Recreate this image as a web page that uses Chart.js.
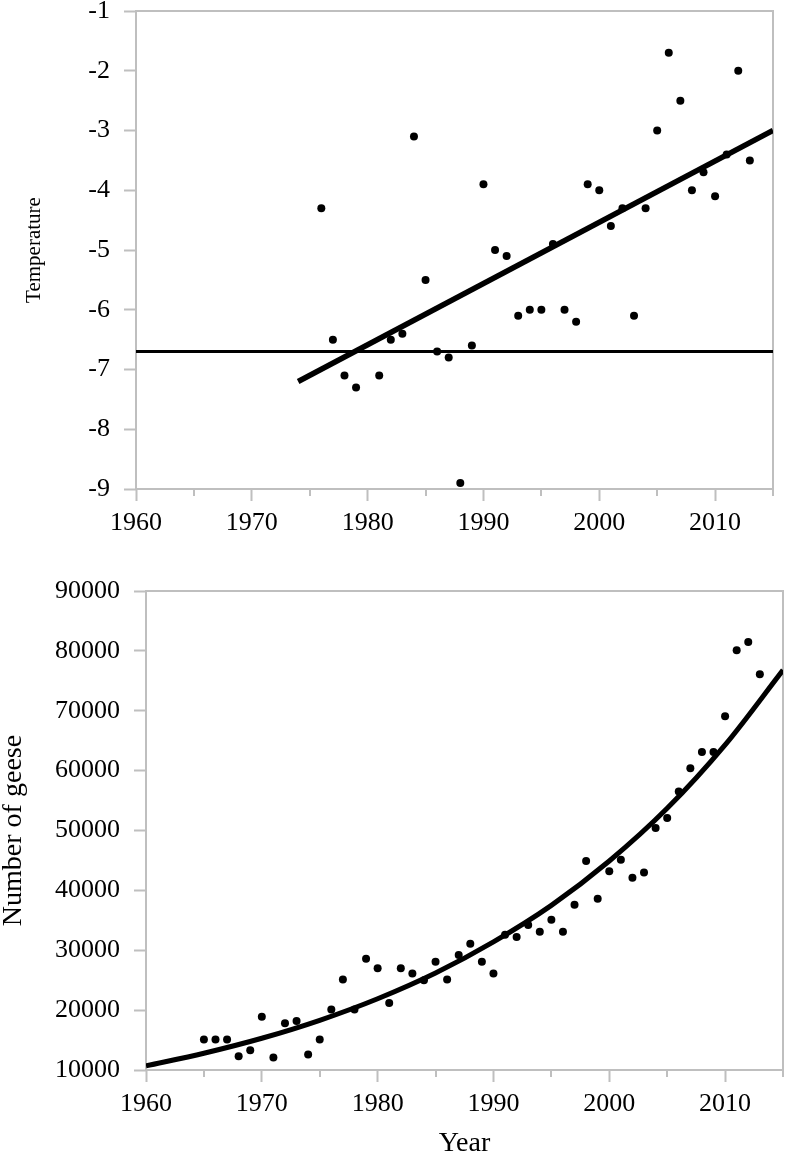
<!DOCTYPE html>
<html>
<head>
<meta charset="utf-8">
<script src="https://cdn.jsdelivr.net/npm/chart.js@4.4.0/dist/chart.umd.min.js"></script>
<style>
html, body { margin: 0; padding: 0; background: #fff; width: 789px; height: 1153px; overflow: hidden; }
.box { position: absolute; left: 0; width: 789px; }
#topBox { top: 0; height: 550px; }
#bottomBox { top: 550px; height: 610px; }
</style>
</head>
<body>
<div class="box" id="topBox"><canvas id="tempChart" width="789" height="550"></canvas></div>
<div class="box" id="bottomBox"><canvas id="geeseChart" width="789" height="610"></canvas></div>
<script>
// temperature panel
const tempYears = [1976, 1977, 1978, 1979, 1981, 1982, 1983, 1984, 1985, 1986, 1987, 1988, 1989,
    1990, 1991, 1992, 1993, 1994, 1995, 1996, 1997, 1998, 1999, 2000, 2001, 2002, 2003, 2004,
    2005, 2006, 2007, 2008, 2009, 2010, 2011, 2012, 2013];
const tempValues = [-4.3, -6.5, -7.1, -7.3, -7.1, -6.5, -6.4, -3.1, -5.5, -6.7, -6.8, -8.9, -6.6,
    -3.9, -5.0, -5.1, -6.1, -6.0, -6.0, -4.9, -6.0, -6.2, -3.9, -4.0, -4.6, -4.3, -6.1, -4.3,
    -3.0, -1.7, -2.5, -4.0, -3.7, -4.1, -3.4, -2.0, -3.5];
const tempTrendYears = [1974, 2015];
const tempTrendValues = [-7.2, -3.0];
const tempMeanYears = [1960, 2015];
const tempMeanValues = [-6.7, -6.7];
const tempTicks = [-9, -8, -7, -6, -5, -4, -3, -2, -1];

// geese panel
const geeseYears = [1965, 1966, 1967, 1968, 1969, 1970, 1971, 1972, 1973, 1974, 1975, 1976, 1977,
    1978, 1979, 1980, 1981, 1982, 1983, 1984, 1985, 1986, 1987, 1988, 1989, 1990, 1991, 1992,
    1993, 1994, 1995, 1996, 1997, 1998, 1999, 2000, 2001, 2002, 2003, 2004, 2005, 2006, 2007,
    2008, 2009, 2010, 2011, 2012, 2013];
const geeseCounts = [15100, 15100, 15100, 12300, 13300, 18900, 12100, 17800, 18200, 12600, 15100,
    20100, 25100, 20100, 28600, 27000, 21200, 27000, 26100, 25000, 28100, 25100, 29200, 31100,
    28100, 26100, 32600, 32200, 34200, 33100, 35100, 33100, 37600, 44900, 38600, 43200, 45100,
    42100, 43000, 50400, 52100, 56500, 60400, 63100, 63100, 69100, 80100, 81500, 76100];
// fitted curve
const geeseCurveYears = [1960, 1965, 1970, 1975, 1980, 1985, 1990, 1995, 2000, 2005, 2010, 2015];
const geeseCurveValues = [10700, 12800, 15300, 18300, 21900, 26200, 31400, 37500, 44900, 53700, 64300, 76800];
const geeseTicks = [10000, 20000, 30000, 40000, 50000, 60000, 70000, 80000, 90000];

const yearLabels = [1960, 1970, 1980, 1990, 2000, 2010];

const axisGray = '#bfbfbf';
const serif = 'Liberation Serif, Times New Roman, serif';

function toPoints(xs, ys) {
    return xs.map((x, i) => ({ x: x, y: ys[i] }));
}

// grey frame round the plot and the short ticks at the half decades
const frameAndMinorTicks = {
    id: 'frameAndMinorTicks',
    beforeDatasetsDraw(chart) {
        const ctx = chart.ctx;
        const a = chart.chartArea;
        const x = chart.scales.x;
        ctx.save();
        ctx.strokeStyle = axisGray;
        ctx.lineWidth = 2;
        ctx.strokeRect(a.left, a.top, a.right - a.left, a.bottom - a.top);
        ctx.beginPath();
        x.ticks.forEach(t => {
            if (!yearLabels.includes(t.value)) {
                const px = Math.round(x.getPixelForValue(t.value));
                ctx.moveTo(px, a.bottom);
                ctx.lineTo(px, a.bottom + 7);
            }
        });
        ctx.stroke();
        ctx.restore();
    }
};

function yearAxis(height, title) {
    return {
        type: 'linear',
        min: 1960,
        max: 2015,
        afterFit: s => { s.height = height; s.paddingLeft = 0; s.paddingRight = 0; },
        border: { display: false },
        grid: {
            drawOnChartArea: false,
            tickLength: 12,
            tickWidth: 2,
            tickColor: c => (c.tick && yearLabels.includes(c.tick.value)) ? axisGray : 'rgba(0,0,0,0)'
        },
        ticks: {
            stepSize: 5,
            autoSkip: false,
            maxRotation: 0,
            padding: 7,
            color: '#000',
            font: { family: serif, size: 26 },
            callback: v => yearLabels.includes(v) ? String(v) : ''
        },
        title: title
    };
}

function valueAxis(min, max, step, width, labels, title) {
    return {
        type: 'linear',
        min: min,
        max: max,
        afterFit: s => { s.width = width; s.paddingTop = 0; s.paddingBottom = 0; },
        afterBuildTicks: s => { s.ticks = labels.map(v => ({ value: v })); },
        border: { display: false },
        grid: { drawOnChartArea: false, tickLength: 12, tickWidth: 2, tickColor: axisGray },
        ticks: {
            stepSize: step,
            padding: 14,
            color: '#000',
            font: { family: serif, size: 26 },
            callback: v => String(v)
        },
        title: title
    };
}

const baseOptions = {
    responsive: false,
    animation: false,
    plugins: { legend: { display: false }, tooltip: { enabled: false } }
};

new Chart(document.getElementById('tempChart'), {
    type: 'scatter',
    data: {
        datasets: [
            {
                type: 'line',
                data: toPoints(tempMeanYears, tempMeanValues),
                borderColor: '#000',
                borderWidth: 3,
                pointRadius: 0
            },
            {
                type: 'line',
                data: toPoints(tempTrendYears, tempTrendValues),
                borderColor: '#000',
                borderWidth: 5.5,
                pointRadius: 0
            },
            {
                data: toPoints(tempYears, tempValues),
                backgroundColor: '#000',
                borderWidth: 0,
                pointRadius: 4
            }
        ]
    },
    options: Object.assign({}, baseOptions, {
        layout: { padding: { top: 11, right: 16, left: 0, bottom: 0 } },
        scales: {
            x: yearAxis(61, { display: false }),
            y: valueAxis(-9, -1, 1, 136, tempTicks, {
                display: true,
                text: 'Temperature',
                color: '#000',
                font: { family: serif, size: 21, lineHeight: 1.2 },
                padding: { top: 22, bottom: 0 }
            })
        }
    }),
    plugins: [frameAndMinorTicks]
});

new Chart(document.getElementById('geeseChart'), {
    type: 'scatter',
    data: {
        datasets: [
            {
                type: 'line',
                data: toPoints(geeseCurveYears, geeseCurveValues),
                borderColor: '#000',
                borderWidth: 5,
                pointRadius: 0,
                cubicInterpolationMode: 'monotone'
            },
            {
                data: toPoints(geeseYears, geeseCounts),
                backgroundColor: '#000',
                borderWidth: 0,
                pointRadius: 4
            }
        ]
    },
    options: Object.assign({}, baseOptions, {
        layout: { padding: { top: 41, right: 6, left: 0, bottom: 0 } },
        scales: {
            x: yearAxis(90, {
                display: true,
                text: 'Year',
                color: '#000',
                font: { family: serif, size: 28, lineHeight: 1.2 },
                padding: { top: 0, bottom: 0 }
            }),
            y: valueAxis(10000, 90000, 10000, 146, geeseTicks, {
                display: true,
                text: 'Number of geese',
                color: '#000',
                font: { family: serif, size: 28, lineHeight: 1.0 },
                padding: { top: 0, bottom: 0 }
            })
        }
    }),
    plugins: [frameAndMinorTicks]
});
</script>
</body>
</html>
